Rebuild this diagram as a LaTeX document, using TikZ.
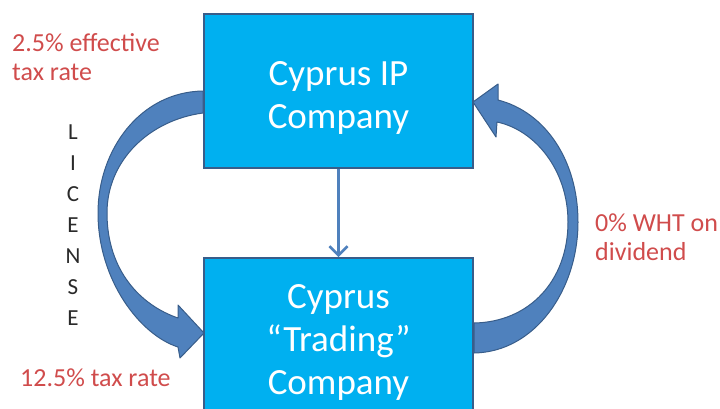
\documentclass[tikz,border=0pt]{standalone}
\usepackage{fontspec}
\setmainfont{Carlito}
\usetikzlibrary{arrows.meta,calc,positioning}
\definecolor{boxfill}{HTML}{00B0F0}
\definecolor{edge}{HTML}{385D8A}
\definecolor{flow}{HTML}{4F81BD}
\definecolor{note}{HTML}{D04C4C}
\definecolor{letters}{HTML}{2A2A2A}

\begin{document}
\begin{tikzpicture}[x=1pt,y=-1pt,>={Straight Barb[length=9pt,width=18pt]},
  company/.style={draw=edge,line width=2pt,fill=boxfill,minimum width=269pt},
  firmname/.style={text=white,align=center,font=\fontsize{37}{43}\selectfont},
  taxnote/.style={text=note,anchor=west,align=left,inner sep=0pt,font=\fontsize{26}{29}\selectfont},
  curvyarrow/.style={fill=flow,draw=edge,line width=1pt,line join=round}]
\useasboundingbox (0,0) rectangle (720,408);
\clip (0,0) rectangle (720,408);
\node[company,minimum height=154pt] (ip) at (338.5,91) {};
\node[company,minimum height=162pt] (trade) at (338.5,339) {};
\node[firmname] (iptext) at ($(ip)+(0,7)$) {Cyprus IP\\Company};
\node[firmname] (tradetext) at ($(trade)+(0,3)$) {Cyprus\\“Trading”\\Company};
\draw[->,flow,line width=2.5pt] (ip) -- (trade);
% license goes down on the left
\path[curvyarrow] (ip.west) .. controls (140,92) and (98,150) .. (98,213)
  .. controls (98,280) and (140,335) .. (178,347) -- (180,358) -- ($(trade.west)+(1,-6)$)
  -- (178,305) -- (178,318) .. controls (140,305) and (107,270) .. (107,213)
  .. controls (107,160) and (150,120) .. ($(ip.west)+(0,22)$) -- cycle;
% dividend comes back up on the right
\path[curvyarrow] ($(trade.east)+(0,14)$) .. controls (535,352) and (578,290) .. (578,222)
  .. controls (578,160) and (545,112) .. (498,100) -- (498,84) -- ($(ip.east)+(-1,11)$)
  -- (496,137) -- (497,122) .. controls (535,130) and (568,170) .. (568,222)
  .. controls (568,280) and (530,322) .. ($(trade.east)+(0,-16)$) -- cycle;
\node[taxnote] (eff) at (12,57) {2.5\% effective\\tax rate};
\node[taxnote] (low) at (20,378) {12.5\% tax rate};
\node[taxnote] (wht) at (595,237) {0\% WHT on\\dividend};
\node[text=letters,align=center,font=\fontsize{23}{31}\selectfont] (lic) at (73,225) {L\\I\\C\\E\\N\\S\\E};
\end{tikzpicture}
\end{document}
